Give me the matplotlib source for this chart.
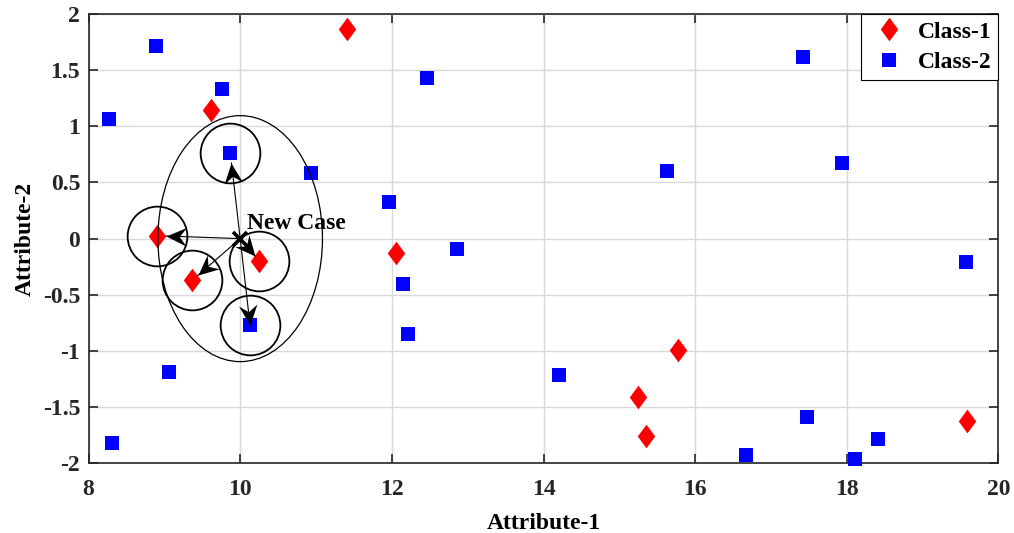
import numpy as np
import matplotlib.pyplot as plt
from matplotlib.patches import Ellipse
from matplotlib.markers import MarkerStyle
from matplotlib.path import Path
from matplotlib.transforms import Affine2D

plt.rcParams['font.family'] = ['Liberation Serif', 'DejaVu Serif']
plt.rcParams['font.weight'] = 'bold'
plt.rcParams['axes.unicode_minus'] = False

# Class-1 samples (red diamonds)
class1_x = [9.62, 11.41, 8.90, 9.37, 10.25, 12.05, 15.78, 15.24, 15.35, 19.58]
class1_y = [1.145, 1.866, 0.026, -0.369, -0.197, -0.125, -0.99, -1.41, -1.755, -1.624]

# Class-2 samples (blue squares)
class2_x = [8.89, 9.76, 8.27, 9.87, 10.93, 12.46, 11.96, 12.86, 12.15, 12.21, 10.13,
            9.06, 8.31, 14.20, 15.63, 16.67, 17.47, 18.11, 17.42, 17.94, 19.57, 18.41]
class2_y = [1.715, 1.332, 1.062, 0.762, 0.58, 1.433, 0.323, -0.095, -0.40, -0.85, -0.77,
            -1.19, -1.817, -1.215, 0.60, -1.927, -1.59, -1.965, 1.614, 0.676, -0.205, -1.787]

# point to classify and its 5 nearest neighbours
new_case = (10.0, 0.0)
nn_class1 = [2, 3, 4]
nn_class2 = [3, 10]
search_radius = (1.085, 1.095)

xticks = [8, 10, 12, 14, 16, 18, 20]
yticks = [2, 1.5, 1, 0.5, 0, -0.5, -1, -1.5, -2]
ytick_labels = ['2', '1.5', '1', '0.5', '0', '-0.5', '-1', '-1.5', '-2']

FS = 17

fig = plt.figure(figsize=(10.14, 5.33), dpi=100)
ax = fig.add_axes([0.0873, 0.1308, 0.8974, 0.843])
ax.set_xlim(8, 20)
ax.set_ylim(-2, 2)

diamond = [(0, 1), (0.74, 0), (0, -1), (-0.74, 0), (0, 1)]
ax.plot(class1_x, class1_y, ls='none', marker=diamond, ms=17, color='#ff0000',
        mec='#ff0000', mew=0, label='Class-1', zorder=3, clip_on=False)
ax.plot(class2_x, class2_y, ls='none', marker='s', ms=10.5, color='#0000ff',
        mec='#0000ff', mew=0, label='Class-2', zorder=3, clip_on=False)

# neighbourhood circle around the new case
ax.add_patch(Ellipse(new_case, 2 * search_radius[0], 2 * search_radius[1],
                     fill=False, ec='black', lw=0.9, zorder=4))

# swept-back arrow head, tip at the origin
head = Path([(0, 0), (-1, 0.46), (-0.66, 0), (-1, -0.46), (0, 0)],
            [Path.MOVETO, Path.LINETO, Path.LINETO, Path.LINETO, Path.CLOSEPOLY])


def arrow(x0, y0, x1, y1, gap):
    p0 = ax.transData.transform((x0, y0))
    p1 = ax.transData.transform((x1, y1))
    u = (p1 - p0) / np.hypot(*(p1 - p0))
    tx, ty = ax.transData.inverted().transform(p1 - u * gap)
    ang = np.degrees(np.arctan2(u[1], u[0]))
    ax.plot([x0, tx], [y0, ty], color='black', lw=0.8, zorder=5)
    ax.plot(tx, ty, ls='none', color='black', ms=29, mew=0,
            marker=MarkerStyle(head, transform=Affine2D().rotate_deg(ang)), zorder=5)


# neighbours: small circles + arrows
nbrs = [(class1_x[i], class1_y[i]) for i in nn_class1] + \
       [(class2_x[i], class2_y[i]) for i in nn_class2]
gaps = [9, 7, 6, 10, 0]
for (px, py), g in zip(nbrs, gaps):
    ax.plot(px, py, marker='o', ms=43, mfc='none', mec='black', mew=1.3, zorder=4)
    arrow(new_case[0], new_case[1], px, py, g)

ax.plot(*new_case, marker='x', ms=10, mew=2.6, color='black', zorder=6)
ax.text(new_case[0] + 0.09, new_case[1] + 0.09, 'New Case', fontsize=FS,
        fontweight='bold', va='baseline', ha='left', zorder=6)

ax.set_xticks(xticks)
ax.set_xticklabels([str(t) for t in xticks])
ax.set_yticks(yticks)
ax.set_yticklabels(ytick_labels)
ax.grid(True, color='#d9d9d9', lw=1.0)
ax.set_axisbelow(True)
ax.tick_params(direction='in', length=6.5, width=1.2, top=True, right=True,
               labelsize=FS, colors='#262626')
ax.tick_params(axis='x', pad=11)
ax.tick_params(axis='y', pad=6)
for s in ax.spines.values():
    s.set_linewidth(1.2)
    s.set_color('#262626')

ax.set_xlabel('Attribute-1', fontsize=FS, fontweight='bold', labelpad=10)
ax.set_ylabel('Attribute-2', fontsize=FS, fontweight='bold', labelpad=5)

leg = ax.legend(loc='upper right', borderaxespad=0, fancybox=False,
                edgecolor='black', framealpha=1, fontsize=FS, handlelength=1.78,
                handletextpad=0.34, borderpad=0.3, labelspacing=0.38)
leg.get_frame().set_linewidth(0.8)

fig.savefig('out.png', dpi=100)
